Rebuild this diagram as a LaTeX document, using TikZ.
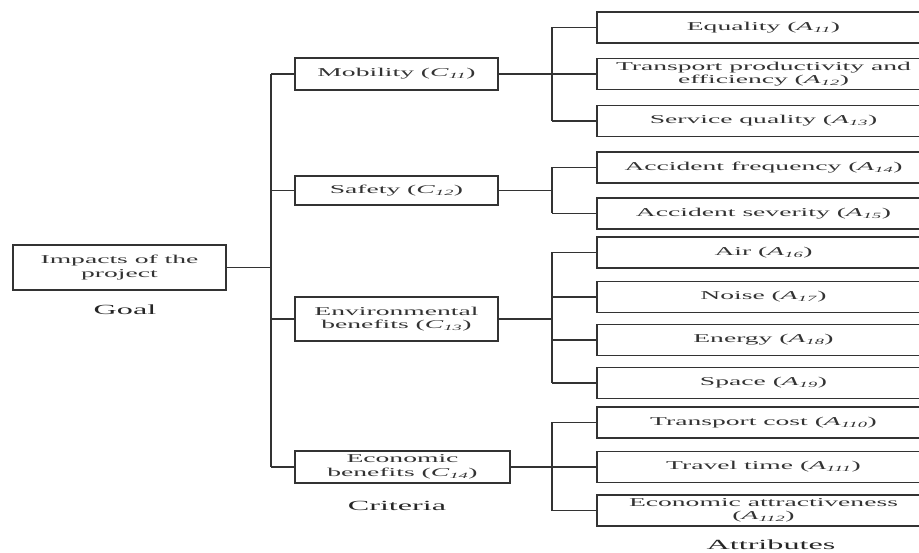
\documentclass[tikz,border=0pt]{standalone}
\usepackage{fontspec}
\setmainfont[FakeStretch=2.3]{Liberation Serif}
\newcommand{\idx}[2]{(\textit{#1}\textsubscript{\textit{#2}})}
\tikzset{
box/.style={draw=black!80,line width=1.3pt,fill=white,align=center,inner sep=1pt,text=black!80,font=\fontsize{12}{13.5}\selectfont},
attr/.style={box,minimum width=333,minimum height=31},
crit/.style={box,minimum width=203,minimum height=32},
link/.style={draw=black!80,line width=1.3pt},
lbl/.style={text=black!85,anchor=base,font=\fontsize{14}{16}\selectfont}
}
\begin{document}
\begin{tikzpicture}[x=1pt,y=-1pt]
\useasboundingbox (0,0) rectangle (919,553);
\clip (0,0) rectangle (919,553);
% goal and criteria
\node[box,minimum width=213,minimum height=45] (goal) at (119.5,267.5) {Impacts of the\\project};
\node[crit] (mob) at (396.5,74) {Mobility \idx{C}{11}};
\node[crit,minimum height=29] (saf) at (396.5,190.5) {Safety \idx{C}{12}};
\node[crit,minimum height=44] (env) at (396.5,319) {Environmental\\benefits \idx{C}{13}};
\node[crit,minimum width=215] (eco) at (402.5,467) {Economic\\benefits \idx{C}{14}};
% attributes
\foreach \y/\t [count=\i] in {27.5/{Equality \idx{A}{11}},
74/{Transport productivity and\\efficiency \idx{A}{12}},
121/{Service quality \idx{A}{13}},
167.5/{Accident frequency \idx{A}{14}},
213.5/{Accident severity \idx{A}{15}},
252.5/{Air \idx{A}{16}},
297/{Noise \idx{A}{17}},
340/{Energy \idx{A}{18}},
383/{Space \idx{A}{19}},
422.5/{Transport cost \idx{A}{110}},
467/{Travel time \idx{A}{111}},
510.5/{Economic attractiveness\\\idx{A}{112}}}{
\node[attr] (a\i) at (763.5,\y) {\t};
}
% labels
\node[lbl] (glab) at (125,315) {Goal};
\node[lbl] (clab) at (397,510) {Criteria};
\node[lbl] (alab) at (771,549) {Attributes};
% buses
\coordinate (busC) at (271,0);
\coordinate (busA) at (552,0);
\draw[link] (goal.east) -- (goal.east -| busC);
\draw[link] (mob.west -| busC) -- (eco.west -| busC);
\foreach \n in {mob,saf,env,eco}{
\draw[link] (\n.west) -- (\n.west -| busC);
\draw[link] (\n.east) -- (\n.east -| busA);
}
\draw[link] (a1.west -| busA) -- (a3.west -| busA);
\draw[link] (a4.west -| busA) -- (a5.west -| busA);
\draw[link] (a6.west -| busA) -- (a9.west -| busA);
\draw[link] (a10.west -| busA) -- (a12.west -| busA);
\foreach \i in {1,...,12}{
\draw[link] (a\i.west) -- (a\i.west -| busA);
}
\end{tikzpicture}
\end{document}
